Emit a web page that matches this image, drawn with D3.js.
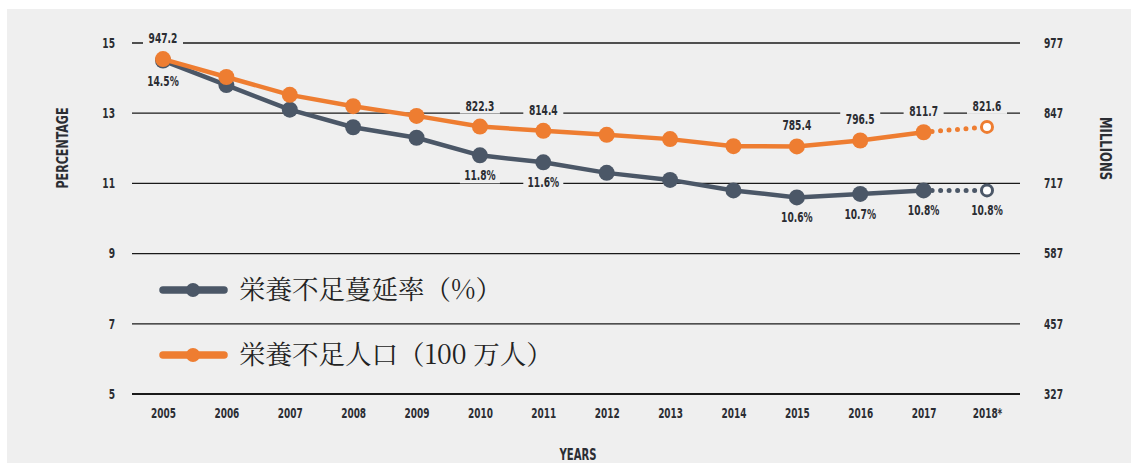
<!DOCTYPE html>
<html><head><meta charset="utf-8">
<script src="https://cdn.jsdelivr.net/npm/d3@7"></script>
<style>
body{margin:0;background:#fff;}
svg{display:block;}
.t{font-family:"DejaVu Sans Condensed","DejaVu Sans",sans-serif;font-weight:bold;fill:#2b2d33;}
</style></head><body>
<svg id="c" width="1131" height="463"></svg>
<script>
const years = ["2005","2006","2007","2008","2009","2010","2011","2012","2013","2014","2015","2016","2017","2018*"];
const prevalence = [14.5,13.8,13.1,12.6,12.3,11.8,11.6,11.3,11.1,10.8,10.6,10.7,10.8,10.8];
const undernourished = [947.2,914,881,860,842,822.3,814.4,807,799,786,785.4,796.5,811.7,821.6];
const labeledIdx = [0,5,6,10,11,12,13];
const leftTicks = [5,7,9,11,13,15];
const rightTicks = [327,457,587,717,847,977];
const legendLabels = ["栄養不足蔓延率（%）","栄養不足人口（100 万人）"];

const gray = "#4b5767", orange = "#ee7d31";
const SX = 0.75, FS = 13.5;
const svg = d3.select("#c");
svg.append("rect").attr("x",7).attr("y",9).attr("width",1124).attr("height",454).attr("fill","#efefef");

const x = d3.scalePoint().domain(years).range([163,987]);
const yL = d3.scaleLinear().domain([5,15]).range([394,43]);
const yR = d3.scaleLinear().domain([327,977]).range([394,43]);

// gridlines
svg.append("g").selectAll("line").data(leftTicks).join("line")
  .attr("x1",132).attr("x2",1020)
  .attr("y1",d=>yL(d)).attr("y2",d=>yL(d))
  .attr("stroke","#1a1a1a").attr("stroke-width",d=>d===5?2.2:1.3);

// axes
const axL = svg.append("g").attr("transform","translate(115,0)")
  .call(d3.axisLeft(yL).tickValues(leftTicks).tickSize(0).tickPadding(0));
const axR = svg.append("g").attr("transform","translate(1044,0)")
  .call(d3.axisRight(yR).tickValues(rightTicks).tickSize(0).tickPadding(0));
const axB = svg.append("g").attr("transform","translate(0,403)")
  .call(d3.axisBottom(x).tickSize(0).tickPadding(5));
[axL,axR,axB].forEach(a=>{
  a.select(".domain").remove();
  a.attr("font-family",null).attr("font-size",null);
  a.selectAll("text").attr("class","t").attr("font-size",FS).attr("fill","#2b2d33")
    .attr("transform",`scale(${SX},1)`);
});
axB.selectAll("text").attr("font-size",14).attr("transform","scale(0.71,1)");

function title(txt, tx, ty, rot, len){
  svg.append("text").attr("class","t").attr("font-size",16).attr("text-anchor","middle")
    .attr("transform",`translate(${tx},${ty}) rotate(${rot})`)
    .attr("textLength",len).attr("lengthAdjust","spacingAndGlyphs").text(txt);
}
title("PERCENTAGE",67.5,148,-90,81);
title("MILLIONS",1099.5,148.5,90,63);
title("YEARS",578,460,0,37);

function labelData(vals, yS, off, fmt){
  return labeledIdx.map(i=>({x:x(years[i]), y:yS(vals[i])+off, t:fmt(vals[i])}));
}
const gLabels = labelData(prevalence, yL, 20, v=>v.toFixed(1)+"%");
const oLabels = labelData(undernourished, yR, -21, v=>v.toFixed(1));
const allLabels = gLabels.concat(oLabels);
// label backgrounds break the gridlines only
svg.append("g").selectAll("rect").data(allLabels).join("rect")
  .attr("x",d=>d.x-20).attr("y",d=>d.y-8).attr("width",40).attr("height",16).attr("fill","#efefef");

function drawSeries(vals, yS, color){
  const g = svg.append("g");
  const solid = vals.slice(0,13).map((v,i)=>[x(years[i]), yS(v)]);
  g.append("path").attr("d", d3.line()(solid)).attr("fill","none")
    .attr("stroke",color).attr("stroke-width",4.5).attr("stroke-linejoin","round");
  const dotted = [[x(years[12]),yS(vals[12])],[x(years[13]),yS(vals[13])]];
  g.append("path").attr("d", d3.line()(dotted)).attr("fill","none")
    .attr("stroke",color).attr("stroke-width",5).attr("stroke-linecap","round")
    .attr("stroke-dasharray","0 8.5");
  g.selectAll("circle.s").data(vals.slice(0,13)).join("circle")
    .attr("cx",(d,i)=>x(years[i])).attr("cy",d=>yS(d)).attr("r",8).attr("fill",color);
  g.append("circle").attr("cx",x(years[13])).attr("cy",yS(vals[13])).attr("r",5.5)
    .attr("fill","#fff").attr("stroke",color).attr("stroke-width",3);
}
drawSeries(prevalence, yL, gray);
drawSeries(undernourished, yR, orange);

svg.append("g").selectAll("text").data(allLabels).join("text").attr("class","t")
  .attr("font-size",FS).attr("text-anchor","middle")
  .attr("transform",d=>`translate(${d.x},${d.y+5}) scale(${SX},1)`).text(d=>d.t);

// legend
const leg = svg.append("g");
[[gray,290,legendLabels[0]],[orange,355,legendLabels[1]]].forEach(([c,yy,t])=>{
  leg.append("line").attr("x1",163).attr("x2",224).attr("y1",yy).attr("y2",yy)
    .attr("stroke",c).attr("stroke-width",7.5).attr("stroke-linecap","round");
  leg.append("circle").attr("cx",193).attr("cy",yy).attr("r",7).attr("fill",c);
  leg.append("text").attr("x",239).attr("y",yy+9).attr("font-size",26.5)
    .attr("font-family","'Noto Serif CJK JP','Noto Sans CJK JP',serif").attr("fill","#222").text(t);
});
</script></body></html>
